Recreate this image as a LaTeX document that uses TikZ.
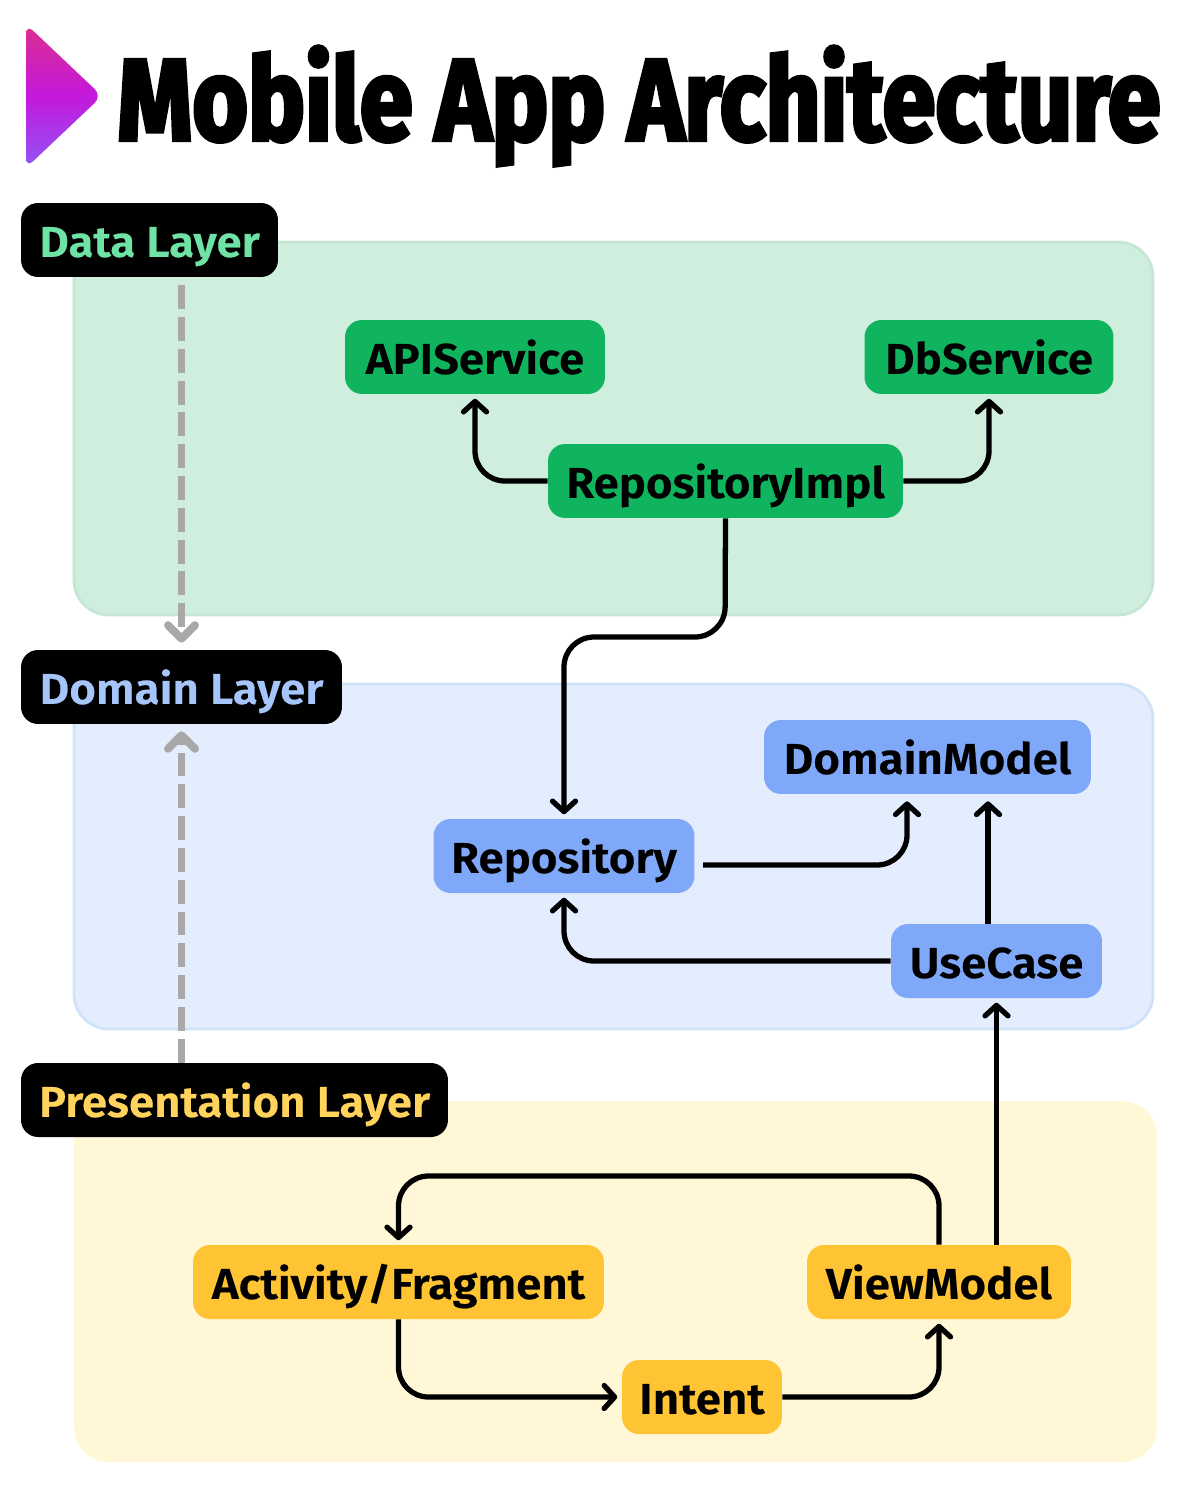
\documentclass[tikz,border=0pt]{standalone}
\usepackage{fontspec}
\newfontfamily\boxfont[FakeBold=0.5,FakeStretch=1.06]{Fira Sans SemiBold}
\newfontfamily\titlefont[FakeStretch=0.823,FakeBold=3.2]{Fira Sans Bold}
\usepackage{tikz}
\usetikzlibrary{positioning,arrows.meta,calc}
\definecolor{datafill}{HTML}{CFEEDD}
\definecolor{dataline}{HTML}{C6E6D5}
\definecolor{domainfill}{HTML}{E3EDFE}
\definecolor{domainline}{HTML}{CFE2F8}
\definecolor{presfill}{HTML}{FFF7D6}
\definecolor{datanode}{HTML}{10B45F}
\definecolor{domainnode}{HTML}{7FA8F8}
\definecolor{presnode}{HTML}{FFC433}
\definecolor{datatext}{HTML}{6FE3A5}
\definecolor{domaintext}{HTML}{A6C5FA}
\definecolor{prestext}{HTML}{FFD35C}
\definecolor{dashgray}{HTML}{A8A8A8}
\definecolor{triTop}{HTML}{DC2F8E}
\definecolor{triMid}{HTML}{C418DC}
\definecolor{triBot}{HTML}{9055F5}
\tikzset{
  band/.style={rounded corners=0.7cm, line width=1.6pt},
  layerlabel/.style={fill=black, rounded corners=0.34cm, minimum height=1.48cm, inner sep=0pt, text height=24pt, text depth=4.8pt, font=\boxfont\fontsize{24.5}{24.5}\selectfont},
  boxnode/.style={rounded corners=0.34cm, minimum height=1.48cm, inner sep=0pt, text=black, text height=24pt, text depth=4.8pt, font=\boxfont\fontsize{24.5}{24.5}\selectfont},
  datastyle/.style={boxnode, fill=datanode},
  domainstyle/.style={boxnode, fill=domainnode},
  presstyle/.style={boxnode, fill=presnode},
  flowarrow/.style={-{Straight Barb[length=2.1mm, width=4.6mm, line width=3pt, round]}, line width=3pt, rounded corners=0.6cm, shorten >=2.5pt},
  dasharrow/.style={-{Straight Barb[length=2.7mm, width=5.4mm, line width=4.5pt, round]}, line width=4.5pt, dashgray, dash pattern=on 13.6pt off 4.5pt, shorten >=4pt}
}
\begin{document}
\begin{tikzpicture}[x=0.02cm, y=-0.02cm]
  \useasboundingbox (0,0) rectangle (1200,1500);

  % layer bands
  \draw[band, fill=datafill, draw=dataline] (74,242) rectangle (1153,615);
  \draw[band, fill=domainfill, draw=domainline] (74,684) rectangle (1153,1029);
  \fill[band, presfill] (74,1101) rectangle (1157,1462);

  % title
  \shade[top color=triTop, bottom color=triBot, middle color=triMid, rounded corners=0.2cm]
    (26,24) -- (102,96) -- (26,168) -- cycle;
  \node[anchor=west, inner sep=0pt, font=\titlefont\fontsize{66}{66}\selectfont] (title) at (117,106) {Mobile App Architecture};

  % layer labels
  \node[layerlabel, text=datatext, minimum width=5.14cm] (dataL) at (149.5,240) {Data Layer};
  \node[layerlabel, text=domaintext, minimum width=6.42cm] (domainL) at (181.5,687) {Domain Layer};
  \node[layerlabel, text=prestext, minimum width=8.54cm] (presL) at (234.5,1100) {Presentation Layer};

  % data layer
  \node[datastyle, minimum width=5.2cm] (api) at (475,357) {APIService};
  \node[datastyle, minimum width=4.98cm] (db) at (989,357) {DbService};
  \node[datastyle, minimum width=7.1cm] (impl) at (725.5,481) {RepositoryImpl};

  % domain layer
  \node[domainstyle, minimum width=6.54cm] (model) at (927.5,757) {DomainModel};
  \node[domainstyle, minimum width=5.22cm] (repo) at (564,856) {Repository};
  \node[domainstyle, minimum width=4.22cm] (usecase) at (996.5,961) {UseCase};

  % presentation layer
  \node[presstyle, minimum width=8.22cm] (activity) at (398.5,1282) {Activity/Fragment};
  \node[presstyle, minimum width=5.28cm] (viewmodel) at (939,1282) {ViewModel};
  \node[presstyle, minimum width=3.2cm] (intent) at (702,1397) {Intent};

  % helper points
  \coordinate (implBend) at (725,637);
  \coordinate (repoOut) at (703,865);
  \coordinate (modelInA) at (907,797);
  \coordinate (modelInB) at (988,797);
  \coordinate (vmBend) at (939,1176);

  % connectors
  \draw[flowarrow] (impl.west) -| (api.south);
  \draw[flowarrow] (impl.east) -| (db.south);
  \draw[flowarrow] (impl.south) -- (implBend) -| (repo.north);
  \draw[flowarrow] (repoOut) -| (modelInA);
  \draw[flowarrow] (modelInB |- usecase.north) -- (modelInB);
  \draw[flowarrow] (usecase.west) -| (repo.south);
  \draw[flowarrow] (usecase.south |- viewmodel.north) -- (usecase.south);
  \draw[flowarrow] (viewmodel.north) -- (vmBend) -| (activity.north);
  \draw[flowarrow] (activity.south) |- (intent.west);
  \draw[flowarrow] (intent.east) -| (viewmodel.south);

  % dashed links between layers
  \draw[dasharrow, shorten <=4.5pt] (domainL.north |- dataL.south) -- (domainL.north);
  \draw[dasharrow] (domainL.south |- presL.north) -- (domainL.south);
\end{tikzpicture}
\end{document}
